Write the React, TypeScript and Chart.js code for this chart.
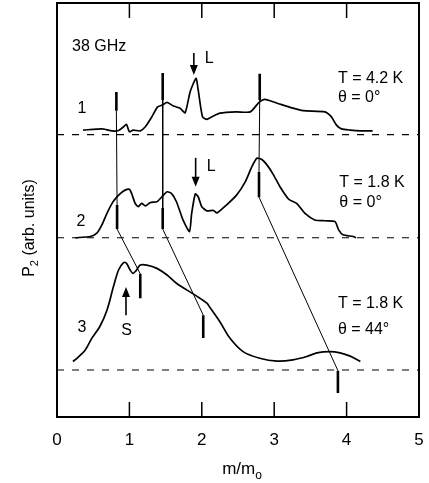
import React, { useEffect, useRef } from "react";
import { Chart, registerables } from "chart.js";

Chart.register(...registerables);

// ---- data (m/m0 vs P2, arbitrary units, curves offset vertically) ----
const xTickValues = [0, 1, 2, 3, 4, 5];

const curve1X = [0.36, 0.62, 0.66, 0.76, 0.85, 0.92, 0.96, 1.0, 1.05, 1.15, 1.22, 1.31, 1.39, 1.46, 1.52, 1.61, 1.7, 1.77, 1.84, 1.92, 1.95, 2.01, 2.07, 2.16, 2.25, 2.48, 2.67, 2.8, 2.87, 3.04, 3.22, 3.4, 3.7, 3.79, 3.86, 3.93, 4.05, 4.19, 4.36];
const curve1Y = [6.93, 6.96, 6.95, 6.91, 6.92, 7.01, 7.07, 6.89, 6.93, 6.91, 7.01, 7.25, 7.49, 7.54, 7.6, 7.51, 7.46, 7.35, 7.86, 8.18, 7.9, 7.25, 7.19, 7.27, 7.34, 7.37, 7.37, 7.62, 7.67, 7.58, 7.48, 7.4, 7.37, 7.25, 7.05, 6.96, 6.93, 6.91, 6.91];

const curve2X = [0.25, 0.46, 0.55, 0.62, 0.69, 0.76, 0.81, 0.87, 0.94, 1.0, 1.03, 1.08, 1.12, 1.17, 1.22, 1.29, 1.38, 1.45, 1.52, 1.58, 1.65, 1.74, 1.83, 1.86, 1.91, 1.95, 2.0, 2.07, 2.16, 2.21, 2.34, 2.48, 2.6, 2.69, 2.76, 2.83, 2.9, 2.99, 3.08, 3.2, 3.31, 3.43, 3.56, 3.7, 3.84, 3.89, 3.95, 4.09, 4.13];
const curve2Y = [4.33, 4.36, 4.44, 4.64, 4.92, 5.16, 5.28, 5.39, 5.48, 5.5, 5.4, 5.16, 5.08, 5.16, 5.1, 5.18, 5.2, 5.32, 5.44, 5.4, 5.2, 4.76, 4.48, 4.92, 5.39, 5.32, 5.08, 4.98, 4.99, 4.93, 5.12, 5.36, 5.68, 6.04, 6.25, 6.22, 6.09, 5.85, 5.56, 5.26, 5.16, 4.91, 4.76, 4.74, 4.72, 4.52, 4.4, 4.36, 4.33];

const curve3X = [0.22, 0.29, 0.39, 0.48, 0.59, 0.69, 0.78, 0.85, 0.92, 0.96, 1.01, 1.05, 1.09, 1.15, 1.24, 1.38, 1.52, 1.65, 1.79, 1.93, 2.07, 2.11, 2.25, 2.39, 2.57, 2.8, 3.04, 3.26, 3.45, 3.59, 3.77, 3.91, 4.05, 4.19];
const curve3Y = [1.34, 1.44, 1.62, 1.9, 2.18, 2.58, 3.15, 3.55, 3.73, 3.71, 3.55, 3.47, 3.53, 3.67, 3.67, 3.59, 3.43, 3.23, 3.07, 2.92, 2.75, 2.65, 2.3, 1.9, 1.58, 1.42, 1.35, 1.38, 1.46, 1.55, 1.58, 1.55, 1.47, 1.34];

const baselines = [6.82, 4.33, 1.135];

// resonance markers (x, top, bottom)
const mark1X = [0.82, 1.46, 2.8];
const mark1Top = [7.85, 8.31, 8.29];
const mark1Bot = [7.4, 7.66, 7.66];
const mark2X = [0.83, 1.46, 2.79];
const mark2Top = [5.12, 5.05, 5.92];
const mark2Bot = [4.54, 4.54, 5.31];
const mark3X = [1.15, 2.02, 3.88];
const mark3Top = [3.46, 2.46, 1.12];
const mark3Bot = [2.87, 1.91, 0.58];

// arrows: x, from, tip
const arrowX = [1.89, 1.915, 0.953];
const arrowFrom = [8.79, 6.26, 2.46];
const arrowTip = [8.26, 5.56, 3.14];

const FONT = '"Liberation Sans", Arial, Helvetica, sans-serif';

const pts = (xs: number[], ys: number[]) => xs.map((x, i) => ({ x, y: ys[i] }));

export default function App() {
  const ref = useRef<HTMLCanvasElement>(null);

  useEffect(() => {
    const line = (data: any[], width: number, dash: number[] = [], tension = 0) => ({
      data,
      borderColor: "#000",
      backgroundColor: "#000",
      borderWidth: width,
      borderDash: dash,
      pointRadius: 0,
      tension,
      fill: false,
    });

    const datasets: any[] = [];
    baselines.forEach((b) => datasets.push(line([{ x: 0, y: b }, { x: 5, y: b }], 1.2, [7, 8])));
    datasets.push(line(pts(curve1X, curve1Y), 1.7, [], 0.2));
    datasets.push(line(pts(curve2X, curve2Y), 1.7, [], 0.2));
    datasets.push(line(pts(curve3X, curve3Y), 1.7, [], 0.3));
    for (let i = 0; i < 3; i++) {
      datasets.push(line([{ x: mark1X[i], y: mark1Top[i] }, { x: mark1X[i], y: mark1Bot[i] }], 2.6));
      datasets.push(line([{ x: mark2X[i], y: mark2Top[i] }, { x: mark2X[i], y: mark2Bot[i] }], 2.6));
      datasets.push(line([{ x: mark3X[i], y: mark3Top[i] }, { x: mark3X[i], y: mark3Bot[i] }], 2.6));
      datasets.push(line([{ x: mark1X[i], y: mark1Bot[i] }, { x: mark2X[i], y: mark2Top[i] }], 1));
      datasets.push(line([{ x: mark2X[i], y: mark2Bot[i] }, { x: mark3X[i], y: mark3Top[i] }], 1));
    }

    const annot = {
      id: "annot",
      afterDatasetsDraw(chart: any) {
        const { ctx, chartArea: a, scales } = chart;
        const xs = scales.x;
        const ys = scales.y;
        ctx.save();
        ctx.strokeStyle = "#000";
        ctx.fillStyle = "#000";
        // frame
        ctx.lineWidth = 2;
        ctx.strokeRect(a.left, a.top, a.right - a.left, a.bottom - a.top);
        // inward ticks
        ctx.lineWidth = 1.5;
        xTickValues.slice(1, -1).forEach((v) => {
          const px = xs.getPixelForValue(v);
          ctx.beginPath();
          ctx.moveTo(px, a.top);
          ctx.lineTo(px, a.top + 15);
          ctx.moveTo(px, a.bottom);
          ctx.lineTo(px, a.bottom - 15);
          ctx.stroke();
        });
        // arrows
        for (let i = 0; i < arrowX.length; i++) {
          const px = xs.getPixelForValue(arrowX[i]);
          const p0 = ys.getPixelForValue(arrowFrom[i]);
          const p1 = ys.getPixelForValue(arrowTip[i]);
          const dir = p1 > p0 ? 1 : -1;
          ctx.lineWidth = 1.6;
          ctx.beginPath();
          ctx.moveTo(px, p0);
          ctx.lineTo(px, p1 - dir * 8);
          ctx.stroke();
          ctx.beginPath();
          ctx.moveTo(px, p1);
          ctx.lineTo(px - 4, p1 - dir * 10);
          ctx.lineTo(px + 4, p1 - dir * 10);
          ctx.closePath();
          ctx.fill();
        }
        // texts
        const text = (s: string, x: number, y: number, align: CanvasTextAlign = "left", size = 16) => {
          ctx.font = `${size}px ${FONT}`;
          ctx.textAlign = align;
          ctx.textBaseline = "middle";
          ctx.fillText(s, xs.getPixelForValue(x), ys.getPixelForValue(y));
        };
        text("38 GHz", 0.207, 8.94);
        text("L", 2.04, 8.65);
        text("1", 0.345, 7.44, "center");
        text("T = 4.2 K", 3.88, 8.18);
        text("\u03b8 = 0\u00b0", 3.88, 7.72);
        text("2", 0.33, 4.73, "center");
        text("L", 2.07, 6.06);
        text("T = 1.8 K", 3.9, 5.65);
        text("\u03b8 = 0\u00b0", 3.9, 5.17);
        text("3", 0.345, 2.15, "center");
        text("S", 0.96, 2.08, "center");
        text("T = 1.8 K", 3.88, 2.73);
        text("\u03b8 = 44\u00b0", 3.88, 2.11);

        // x title m/m_o
        ctx.textAlign = "left";
        ctx.textBaseline = "alphabetic";
        ctx.font = `17px ${FONT}`;
        const main = "m/m";
        const wMain = ctx.measureText(main).width;
        ctx.font = `12px ${FONT}`;
        const wSub = ctx.measureText("o").width;
        const cx = (a.left + a.right) / 2 + 4;
        const bx = cx - (wMain + wSub) / 2;
        const by = a.bottom + 57;
        ctx.font = `17px ${FONT}`;
        ctx.fillText(main, bx, by);
        ctx.font = `12px ${FONT}`;
        ctx.fillText("o", bx + wMain, by + 5);

        // y title P_2 (arb. units)
        ctx.save();
        ctx.translate(a.left - 23, (a.top + a.bottom) / 2 + 18);
        ctx.rotate(-Math.PI / 2);
        ctx.font = `16px ${FONT}`;
        const wP = ctx.measureText("P").width;
        const rest = " (arb. units)";
        const wR = ctx.measureText(rest).width;
        ctx.font = `11px ${FONT}`;
        const w2 = ctx.measureText("2").width;
        const total = wP + w2 + wR;
        let sx = -total / 2;
        ctx.font = `16px ${FONT}`;
        ctx.fillText("P", sx, 0);
        sx += wP;
        ctx.font = `11px ${FONT}`;
        ctx.fillText("2", sx, 4);
        sx += w2;
        ctx.font = `16px ${FONT}`;
        ctx.fillText(rest, sx, 0);
        ctx.restore();

        ctx.restore();
      },
    };

    const chart = new Chart(ref.current as HTMLCanvasElement, {
      type: "line",
      data: { datasets },
      options: {
        animation: false,
        responsive: false,
        devicePixelRatio: 1,
        layout: { padding: { top: 3, right: 10, left: 0, bottom: 0 } },
        plugins: { legend: { display: false }, tooltip: { enabled: false } },
        scales: {
          x: {
            type: "linear",
            min: 0,
            max: 5,
            afterFit: (s: any) => {
              s.height = 66;
              s.paddingLeft = 0;
              s.paddingRight = 0;
              s.paddingTop = 0;
              s.paddingBottom = 0;
            },
            afterBuildTicks: (s: any) => {
              s.ticks = xTickValues.map((v) => ({ value: v }));
            },
            grid: { display: false, drawTicks: false },
            border: { display: false },
            ticks: {
              color: "#000",
              padding: 13,
              font: { family: FONT, size: 17 },
              callback: (v: any) => String(v),
            },
          },
          y: {
            type: "linear",
            min: 0,
            max: 10,
            afterFit: (s: any) => {
              s.width = 57;
              s.paddingLeft = 0;
              s.paddingRight = 0;
              s.paddingTop = 0;
              s.paddingBottom = 0;
            },
            grid: { display: false, drawTicks: false },
            border: { display: false },
            ticks: { display: false },
          },
        },
      },
      plugins: [annot],
    });
    return () => chart.destroy();
  }, []);

  return (
    <div style={{ position: "absolute", left: 0, top: 0, width: 429, height: 483, background: "#fff" }}>
      <canvas ref={ref} width={429} height={483} style={{ display: "block" }} />
    </div>
  );
}
